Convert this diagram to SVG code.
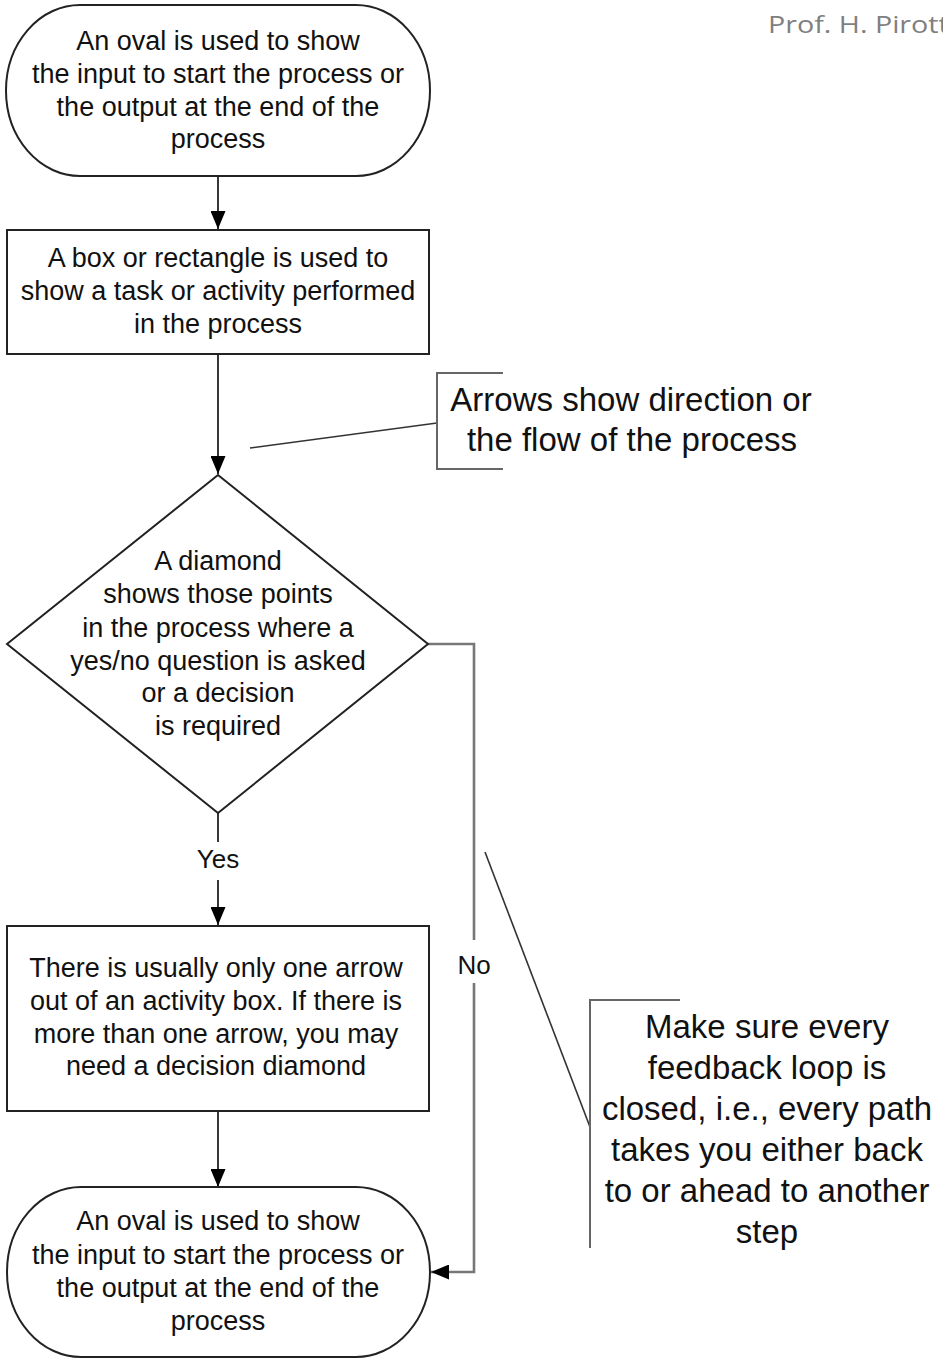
<svg xmlns="http://www.w3.org/2000/svg" width="943" height="1361" viewBox="0 0 943 1361">
<style>
.shape{fill:#fff;stroke:#222;stroke-width:2}
.t{font-family:"Liberation Sans",Arial,sans-serif;font-size:27px;fill:#111;text-anchor:middle}
.big{font-family:"Liberation Sans",Arial,sans-serif;font-size:33px;fill:#111;text-anchor:middle}
.lbl{font-family:"Liberation Sans",Arial,sans-serif;font-size:26px;fill:#111;text-anchor:middle}
.conn{fill:none;stroke:#222;stroke-width:1.8}
.no{fill:none;stroke:#777;stroke-width:2.6}
.note{fill:none;stroke:#333;stroke-width:1.6}
.brk{fill:none;stroke:#666;stroke-width:2}
</style>
<defs>
<marker id="ah" viewBox="0 0 18 15" markerWidth="18" markerHeight="15" refX="18" refY="7.5" orient="auto" markerUnits="userSpaceOnUse">
<path d="M0,0 L18,7.5 L0,15 Z" fill="#000"/>
</marker>
</defs>
<text x="768" y="33" font-family="'Open Sans','Liberation Sans',sans-serif" font-size="24" fill="#7f7f7f" textLength="198" lengthAdjust="spacingAndGlyphs">Prof. H. Pirotto</text>
<g id="connectors">
<path class="conn" d="M218,176 V229" marker-end="url(#ah)"/>
<path class="conn" d="M218,354 V474" marker-end="url(#ah)"/>
<path class="conn" d="M218,813 V842 M218,880 V925" marker-end="url(#ah)"/>
<path class="conn" d="M218,1111 V1187" marker-end="url(#ah)"/>
<path class="no" d="M428,644 H474 V940 M474,983 V1272 H431" marker-end="url(#ah)"/>
<text class="lbl" x="218" y="868">Yes</text>
<text class="lbl" x="474" y="974">No</text>
</g>
<g id="start">
<rect class="shape" x="6" y="5" width="424" height="171" rx="74" ry="85.5"/>
<text class="t" x="218" y="50">An oval is used to show</text>
<text class="t" x="218" y="83">the input to start the process or</text>
<text class="t" x="218" y="116">the output at the end of the</text>
<text class="t" x="218" y="148">process</text>
</g>
<g id="task">
<rect class="shape" x="7" y="230" width="422" height="124"/>
<text class="t" x="218" y="267">A box or rectangle is used to</text>
<text class="t" x="218" y="300">show a task or activity performed</text>
<text class="t" x="218" y="333">in the process</text>
</g>
<g id="decision">
<polygon class="shape" points="218,475 428,644 218,813 7,644"/>
<text class="t" x="218" y="570">A diamond</text>
<text class="t" x="218" y="603">shows those points</text>
<text class="t" x="218" y="637">in the process where a</text>
<text class="t" x="218" y="670">yes/no question is asked</text>
<text class="t" x="218" y="702">or a decision</text>
<text class="t" x="218" y="735">is required</text>
</g>
<g id="activity">
<rect class="shape" x="7" y="926" width="422" height="185"/>
<text class="t" x="216" y="977">There is usually only one arrow</text>
<text class="t" x="216" y="1010">out of an activity box. If there is</text>
<text class="t" x="216" y="1043">more than one arrow, you may</text>
<text class="t" x="216" y="1075">need a decision diamond</text>
</g>
<g id="end">
<rect class="shape" x="7" y="1187" width="423" height="170" rx="74" ry="85"/>
<text class="t" x="218" y="1230">An oval is used to show</text>
<text class="t" x="218" y="1264">the input to start the process or</text>
<text class="t" x="218" y="1297">the output at the end of the</text>
<text class="t" x="218" y="1330">process</text>
</g>
<g id="note-arrows">
<line class="note" x1="250" y1="448" x2="437" y2="423"/>
<path class="brk" d="M503,373 H437 V469 H503"/>
<text class="big" x="631" y="411">Arrows show direction or</text>
<text class="big" x="632" y="451">the flow of the process</text>
</g>
<g id="note-loop">
<line class="note" x1="485" y1="852" x2="590" y2="1127"/>
<path class="brk" d="M680,1000 H590 V1248"/>
<text class="big" x="767" y="1038">Make sure every</text>
<text class="big" x="767" y="1079">feedback loop is</text>
<text class="big" x="767" y="1120">closed, i.e., every path</text>
<text class="big" x="767" y="1161">takes you either back</text>
<text class="big" x="767" y="1202">to or ahead to another</text>
<text class="big" x="767" y="1243">step</text>
</g>
</svg>
